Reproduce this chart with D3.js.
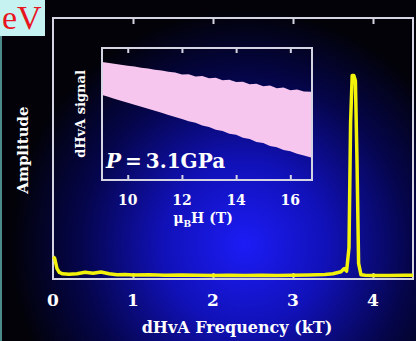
<!DOCTYPE html>
<html>
<head>
<meta charset="utf-8">
<script src="https://cdn.jsdelivr.net/npm/d3@7"></script>
<style>
  html, body { margin: 0; padding: 0; background: #000; }
  svg { display: block; }
  text { font-family: "DejaVu Serif", "Liberation Serif", serif; font-weight: bold; fill: #fff; }
</style>
</head>
<body>
<div id="chart"></div>
<script>
// main spectrum: dHvA frequency (kT) vs amplitude (arb.)
const freq = [0.0, 0.02, 0.05, 0.08, 0.12, 0.2, 0.3, 0.4, 0.5, 0.6, 0.7, 0.8, 0.9, 1.0,
  1.2, 1.4, 1.6, 1.8, 2.0, 2.2, 2.4, 2.6, 2.8, 3.0, 3.2, 3.4, 3.5, 3.6, 3.64, 3.67,
  3.70, 3.72, 3.74, 3.76, 3.78, 3.80, 3.82, 3.85, 3.9, 4.0, 4.2, 4.4, 4.5];
const amp = [0.085, 0.08, 0.04, 0.025, 0.02, 0.018, 0.02, 0.026, 0.022, 0.027, 0.02, 0.016, 0.017, 0.015,
  0.016, 0.014, 0.015, 0.014, 0.013, 0.014, 0.013, 0.014, 0.013, 0.014, 0.015, 0.017, 0.02, 0.028, 0.04, 0.03,
  0.12, 0.6, 0.78, 0.78, 0.76, 0.45, 0.06, 0.016, 0.014, 0.013, 0.013, 0.014, 0.014];
const freqTicks = [0, 1, 2, 3, 4];

// inset: dHvA signal envelope vs field (T)
const field = [9.0, 9.25, 9.5, 9.75, 10, 10.25, 10.5, 10.75, 11, 11.25, 11.5, 11.75, 12, 12.25, 12.5, 12.75,
  13, 13.25, 13.5, 13.75, 14, 14.25, 14.5, 14.75, 15, 15.25, 15.5, 15.75, 16, 16.25, 16.5, 16.8];
const sigTop = [8.95, 8.88, 8.8, 8.74, 8.66, 8.6, 8.5, 8.45, 8.36, 8.3, 8.2, 8.15, 8.0, 8.02, 7.85, 7.88,
  7.7, 7.74, 7.55, 7.6, 7.42, 7.45, 7.25, 7.3, 7.1, 7.15, 6.95, 7.0, 6.8, 6.86, 6.7, 6.68];
const sigBot = [6.47, 6.32, 6.16, 6.01, 5.86, 5.7, 5.55, 5.39, 5.24, 5.09, 4.93, 4.78, 4.63, 4.45, 4.33, 4.12,
  4.02, 3.8, 3.72, 3.5, 3.42, 3.2, 3.1, 2.88, 2.8, 2.58, 2.48, 2.28, 2.18, 1.98, 1.86, 1.68];
const fieldTicks = [10, 12, 14, 16];

const W = 416, H = 341;
const svg = d3.select("#chart").append("svg").attr("width", W).attr("height", H);

// background glow
const defs = svg.append("defs");
const grad = defs.append("radialGradient").attr("id", "glow")
  .attr("gradientUnits", "userSpaceOnUse")
  .attr("cx", 245).attr("cy", 245).attr("r", 235);
grad.append("stop").attr("offset", "0%").attr("stop-color", "#1c1cf6");
grad.append("stop").attr("offset", "35%").attr("stop-color", "#1111b8");
grad.append("stop").attr("offset", "70%").attr("stop-color", "#05054c");
grad.append("stop").attr("offset", "100%").attr("stop-color", "#020208");
svg.append("rect").attr("width", W).attr("height", H).attr("fill", "#020206");
svg.append("rect").attr("width", W).attr("height", H).attr("fill", "url(#glow)");

// leftover of slide: cyan box with red "eV"
svg.append("rect").attr("x", 0).attr("y", 0).attr("width", 45).attr("height", 36).attr("fill", "#c6f2f2");
svg.append("rect").attr("x", 0).attr("y", 36).attr("width", 2).attr("height", H - 36).attr("fill", "#4d8a8a");
svg.append("text").attr("x", 2).attr("y", 29)
  .style("font-family", "Liberation Serif").style("font-weight", "normal")
  .style("font-size", "34px").style("fill", "#e8141e").text("eV");

// main plot
const m = { left: 53, right: 413, top: 18, bottom: 279 };
const x = d3.scaleLinear().domain([0, 4.5]).range([m.left, m.right]);
const y = d3.scaleLinear().domain([0, 1]).range([m.bottom, m.top]);
const frameCol = "#d4d4e2";

svg.append("rect").attr("x", m.left).attr("y", m.top)
  .attr("width", m.right - m.left).attr("height", m.bottom - m.top)
  .attr("fill", "none").attr("stroke", frameCol).attr("stroke-width", 2);

svg.append("g").attr("transform", `translate(0,${m.bottom})`)
  .call(d3.axisBottom(x).tickValues(freqTicks.slice(1)).tickSize(-6).tickFormat(""))
  .call(g => g.select(".domain").remove())
  .call(g => g.selectAll("line").attr("stroke", frameCol).attr("stroke-width", 2));
svg.append("g").attr("transform", `translate(0,${m.top})`)
  .call(d3.axisTop(x).tickValues(freqTicks.slice(1)).tickSize(-6).tickFormat(""))
  .call(g => g.select(".domain").remove())
  .call(g => g.selectAll("line").attr("stroke", frameCol).attr("stroke-width", 2));

svg.append("g").selectAll("text").data(freqTicks).enter().append("text")
  .attr("x", d => x(d)).attr("y", 306).attr("text-anchor", "middle")
  .style("font-size", "17px").text(d => d);

svg.append("text").attr("x", 237).attr("y", 333).attr("text-anchor", "middle")
  .style("font-size", "16px").text("dHvA Frequency (kT)");
svg.append("text").attr("transform", "translate(28,150) rotate(-90)").attr("text-anchor", "middle")
  .style("font-size", "15px").text("Amplitude");

const pts = freq.map((f, i) => [f, amp[i]]);
svg.append("path").datum(pts)
  .attr("d", d3.line().x(d => x(d[0])).y(d => y(d[1])))
  .attr("fill", "none").attr("stroke", "#f2f20a").attr("stroke-width", 3.5)
  .attr("stroke-linejoin", "round");

// inset
const n = { left: 102, right: 312, top: 48, bottom: 180 };
const xi = d3.scaleLinear().domain([9.05, 16.8]).range([n.left, n.right]);
const yi = d3.scaleLinear().domain([0, 10]).range([n.bottom, n.top]);

defs.append("clipPath").attr("id", "inclip").append("rect")
  .attr("x", n.left).attr("y", n.top).attr("width", n.right - n.left).attr("height", n.bottom - n.top);

const band = field.map((b, i) => [b, sigBot[i], sigTop[i]]);
svg.append("path").datum(band).attr("clip-path", "url(#inclip)")
  .attr("d", d3.area().x(d => xi(d[0])).y0(d => yi(d[1])).y1(d => yi(d[2])))
  .attr("fill", "#f6c6ee");

svg.append("rect").attr("x", n.left).attr("y", n.top)
  .attr("width", n.right - n.left).attr("height", n.bottom - n.top)
  .attr("fill", "none").attr("stroke", frameCol).attr("stroke-width", 2);

svg.append("g").attr("transform", `translate(0,${n.bottom})`)
  .call(d3.axisBottom(xi).tickValues(fieldTicks).tickSize(-5).tickFormat(""))
  .call(g => g.select(".domain").remove())
  .call(g => g.selectAll("line").attr("stroke", frameCol).attr("stroke-width", 2));
svg.append("g").attr("transform", `translate(0,${n.top})`)
  .call(d3.axisTop(xi).tickValues(fieldTicks).tickSize(-5).tickFormat(""))
  .call(g => g.select(".domain").remove())
  .call(g => g.selectAll("line").attr("stroke", frameCol).attr("stroke-width", 2));

svg.append("g").selectAll("text").data(fieldTicks).enter().append("text")
  .attr("x", d => xi(d)).attr("y", 205).attr("text-anchor", "middle")
  .style("font-size", "14px").text(d => d);

const xl = svg.append("text").attr("x", 203).attr("y", 223).attr("text-anchor", "middle")
  .style("font-size", "14px");
xl.append("tspan").text("\u03bc");
xl.append("tspan").attr("dy", 4).style("font-size", "9px").text("B");
xl.append("tspan").attr("dy", -4).text("H (T)");

svg.append("text").attr("transform", "translate(85,114) rotate(-90)").attr("text-anchor", "middle")
  .style("font-size", "13px").text("dHvA signal");

const pl = svg.append("text").attr("x", 106).attr("y", 168).style("font-size", "20px");
pl.append("tspan").style("font-style", "italic").text("P");
pl.append("tspan").text("\u2009=\u20093.1GPa");
</script>
</body>
</html>
